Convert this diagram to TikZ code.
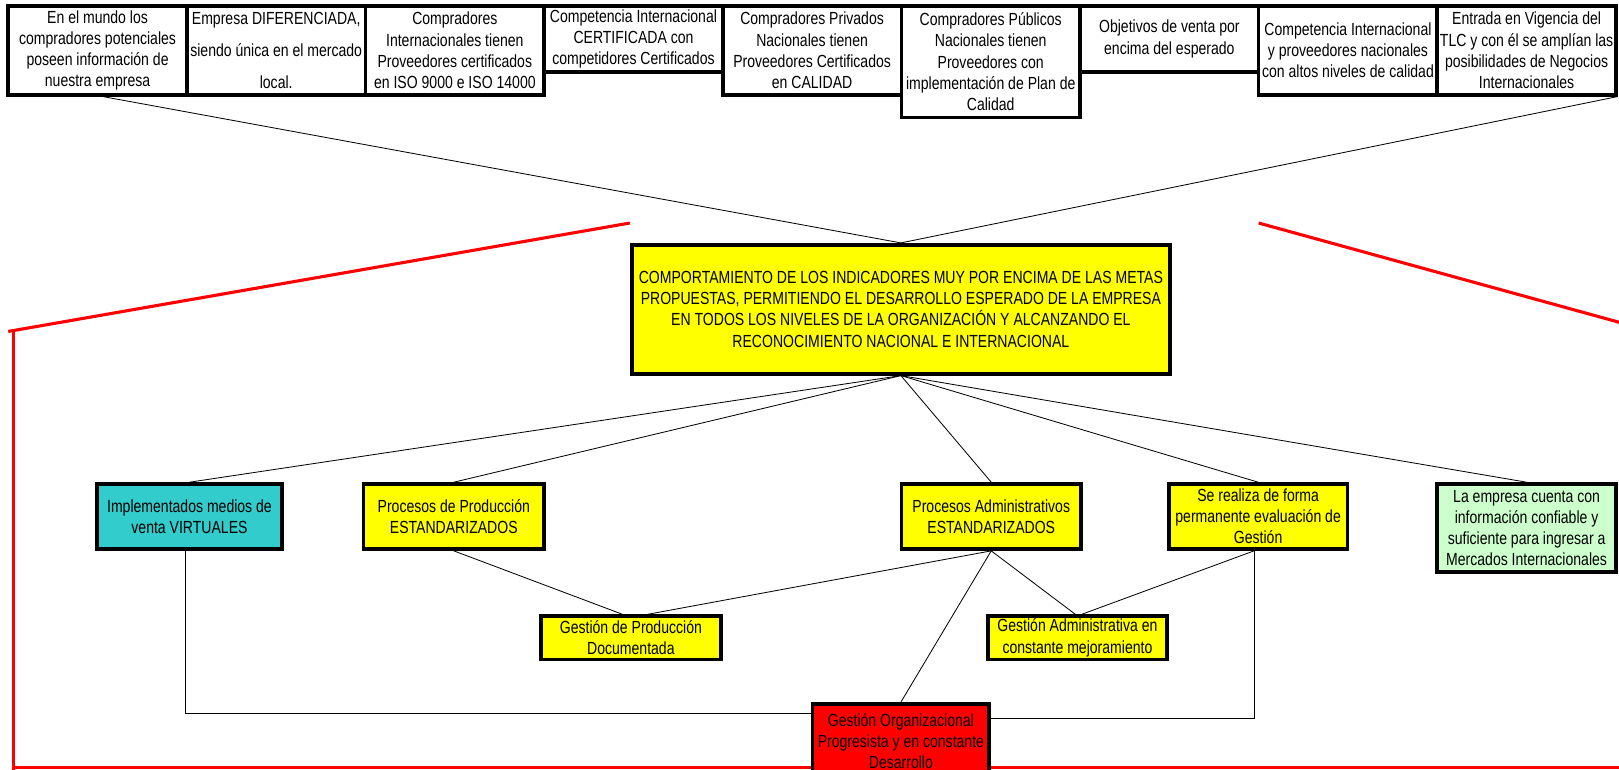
\documentclass[tikz,border=0pt]{standalone}
\usepackage{fontspec}
\setmainfont{Liberation Sans}[FakeStretch=0.8]
\definecolor{amarillo}{HTML}{FFFF00}
\definecolor{turquesa}{HTML}{33CCCC}
\definecolor{verdeclaro}{HTML}{CCFFCC}
\definecolor{rojo}{HTML}{FF0000}
\begin{document}
\begin{tikzpicture}[x=1pt,y=-1pt,
    caja/.style={draw,line width=3.5pt,inner sep=1pt,align=center,
        font=\fontsize{17}{20.5}\selectfont},
    arriba/.style={caja,anchor=north,minimum width=173pt},
    linea/.style={line width=0.8pt},
    roja/.style={draw=rojo,line width=3pt}]
\useasboundingbox (0,0) rectangle (1568,745);
\clip (0,0) rectangle (1568,745);
% marco rojo
\draw[roja] (610,216)--(8,321);
\draw[roja] (13,320)--(13,760);
\draw[roja] (13,743.5)--(1575,743.5);
\draw[roja] (1219,216)--(1575,314);
% fila superior
\node[arriba,minimum height=86pt] (t1) at (94.5,4)
    {En el mundo los\\compradores potenciales\\poseen información de\\nuestra empresa};
\node[arriba,minimum height=86pt] (t2) at (267.5,4)
    {Empresa DIFERENCIADA,\\[10.5pt]siendo única en el mercado\\[10.5pt]local.};
\node[arriba,minimum height=86pt] (t3) at (440.5,4)
    {Compradores\\Internacionales tienen\\Proveedores certificados\\en ISO 9000 e ISO 14000};
\node[arriba,minimum height=64pt] (t4) at (613.5,4)
    {Competencia Internacional\\CERTIFICADA con\\competidores Certificados};
\node[arriba,minimum height=86pt] (t5) at (786.5,4)
    {Compradores Privados\\Nacionales tienen\\Proveedores Certificados\\en CALIDAD};
\node[arriba,minimum height=108pt] (t6) at (959.5,4)
    {Compradores Públicos\\Nacionales tienen\\Proveedores con\\implementación de Plan de\\Calidad};
\node[arriba,minimum height=64pt] (t7) at (1132.5,4)
    {Objetivos de venta por\\encima del esperado};
\node[arriba,minimum height=86pt] (t8) at (1305.5,4)
    {Competencia Internacional\\y proveedores nacionales\\con altos niveles de calidad};
\node[arriba,minimum height=86pt] (t9) at (1478.5,4)
    {Entrada en Vigencia del\\TLC y con él se amplían las\\posibilidades de Negocios\\Internacionales};
% objetivo central
\node[caja,fill=amarillo,minimum width=521pt,minimum height=125pt] (meta) at (872.5,299.5)
    {COMPORTAMIENTO DE LOS INDICADORES MUY POR ENCIMA DE LAS METAS\\
     PROPUESTAS, PERMITIENDO EL DESARROLLO ESPERADO DE LA EMPRESA\\
     EN TODOS LOS NIVELES DE LA ORGANIZACIÓN Y ALCANZANDO EL\\
     RECONOCIMIENTO NACIONAL E INTERNACIONAL};
% segundo nivel
\node[caja,anchor=north,fill=turquesa,minimum width=179pt,minimum height=63pt] (virt) at (183.5,467)
    {Implementados medios de\\venta VIRTUALES};
\node[caja,anchor=north,fill=amarillo,minimum width=175pt,minimum height=63pt] (prod) at (439.5,467)
    {Procesos de Producción\\ESTANDARIZADOS};
\node[caja,anchor=north,fill=amarillo,minimum width=174pt,minimum height=63pt] (adm) at (960,467)
    {Procesos Administrativos\\ESTANDARIZADOS};
\node[caja,anchor=north,fill=amarillo,minimum width=173pt,minimum height=63pt] (eval) at (1218.5,467)
    {Se realiza de forma\\permanente evaluación de\\Gestión};
\node[caja,anchor=north,fill=verdeclaro,minimum width=173pt,minimum height=85pt] (info) at (1478.5,467)
    {La empresa cuenta con\\información confiable y\\suficiente para ingresar a\\Mercados Internacionales};
% tercer nivel
\node[caja,anchor=north,fill=amarillo,minimum width=174pt,minimum height=42pt] (gprod) at (611,595)
    {Gestión de Producción\\Documentada};
\node[caja,anchor=north,fill=amarillo,minimum width=173pt,minimum height=42pt] (gadm) at (1043.5,595)
    {Gestión Administrativa en\\constante mejoramiento};
\node[caja,anchor=north,fill=rojo,minimum width=171pt,minimum height=72pt] (gorg) at (872.5,680)
    {Gestión Organizacional\\Progresista y en constante\\Desarrollo};
% conexiones
\draw[linea] ([xshift=5pt]t1.south)--(meta.north);
\draw[linea] (t9.south east)--(meta.north);
\foreach \n in {virt,prod,adm,eval,info}
    \draw[linea] (meta.south)--(\n.north);
\draw[linea] (prod.south)--([xshift=-8pt]gprod.north);
\draw[linea] (adm.south)--([xshift=16pt]gprod.north);
\draw[linea] (adm.south)--([xshift=-2pt]gadm.north);
\draw[linea] ([xshift=-4pt]eval.south)--([xshift=4pt]gadm.north);
\draw[linea] (adm.south)--(gorg.north);
\draw[linea] ([xshift=-4pt]virt.south) |- ([yshift=-11pt]gorg.north west);
\draw[linea] ([xshift=-4pt]eval.south) |- ([yshift=-16pt]gorg.north east);
\end{tikzpicture}
\end{document}
